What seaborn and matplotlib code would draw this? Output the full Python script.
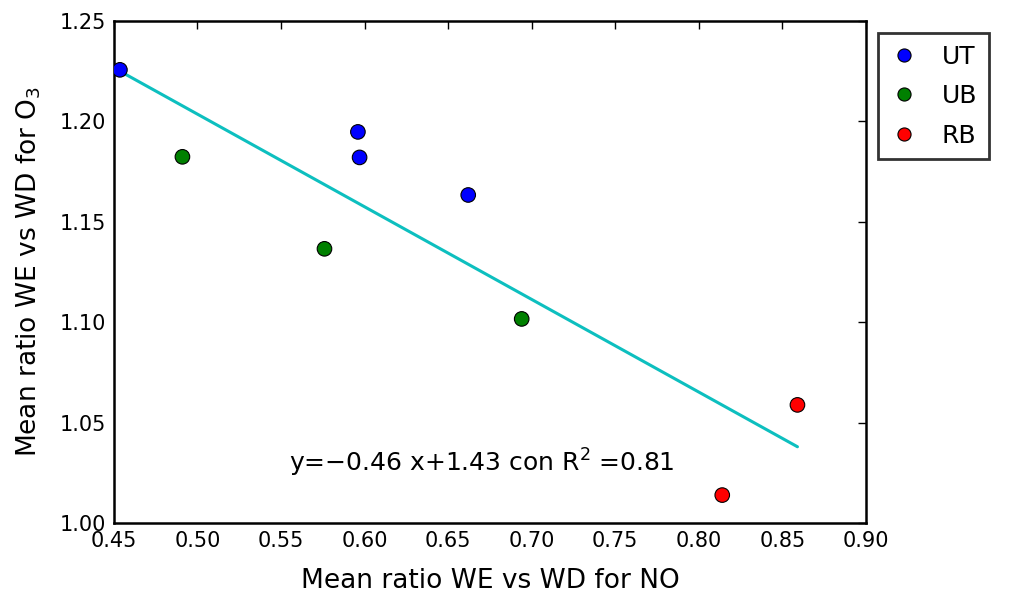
import numpy as np
import pandas as pd
import matplotlib
matplotlib.use("Agg")
import matplotlib.pyplot as plt
import seaborn as sns

# Data
groups = ["UT", "UT", "UT", "UT", "UB", "UB", "UB", "RB", "RB"]
x_no = [0.4536, 0.596, 0.597, 0.662, 0.491, 0.576, 0.694, 0.814, 0.859]
y_o3 = [1.2256, 1.1947, 1.182, 1.1633, 1.1823, 1.1365, 1.1016, 1.0139, 1.0588]
categories = ["UT", "UB", "RB"]
colors = ["#0000ff", "#008000", "#ff0000"]
fit_slope = -0.46
fit_intercept = 1.43
r2 = 0.81
x_ticks = [0.45, 0.50, 0.55, 0.60, 0.65, 0.70, 0.75, 0.80, 0.85, 0.90]
y_ticks = [1.00, 1.05, 1.10, 1.15, 1.20, 1.25]

df = pd.DataFrame({"x": x_no, "y": y_o3, "group": groups})

sns.set_style("white")
plt.rcParams["font.family"] = ["DejaVu Sans"]
plt.rcParams["text.color"] = "black"
plt.rcParams["axes.labelcolor"] = "black"

fig = plt.figure(figsize=(10.17, 5.95), dpi=100)
ax = fig.add_axes([0.112, 0.121, 0.7395, 0.844])

# regression line fitted from data
coef = np.polyfit(x_no, y_o3, 1)
xl = np.array([min(x_no), max(x_no)])
ax.plot(xl, np.polyval(coef, xl), color=(0.05, 0.75, 0.75), lw=2.2, zorder=1)

sns.scatterplot(data=df, x="x", y="y", hue="group", hue_order=categories,
                palette=colors, s=110, edgecolor="black", linewidth=0.8,
                ax=ax, zorder=3)

ax.set_xlim(0.45, 0.90)
ax.set_ylim(1.00, 1.25)
ax.set_xticks(x_ticks)
ax.set_yticks(y_ticks)
ax.set_xticklabels([f"{v:.2f}" for v in x_ticks])
ax.set_yticklabels([f"{v:.2f}" for v in y_ticks])
ax.tick_params(direction="in", length=6, width=1, top=True, right=True,
               labelsize=15, colors="black", pad=6)
for sp in ax.spines.values():
    sp.set_color("black")
    sp.set_linewidth(1.8)

ax.set_xlabel("Mean ratio WE vs WD for NO", fontsize=19, labelpad=12)
ax.set_ylabel("Mean ratio WE vs WD for O$_3$", fontsize=19, labelpad=12)

ax.text(0.555, 1.030, f"y=$-${abs(fit_slope):.2f} x+{fit_intercept:.2f} con R$^2$ =0.81",
        fontsize=18, va="center", ha="left")

handles, labels = ax.get_legend_handles_labels()
leg = ax.legend(handles, labels, loc="upper left", bbox_to_anchor=(1.016, 0.975),
                fontsize=18, frameon=True, fancybox=False, borderpad=0.45,
                handlelength=1.2, handletextpad=0.9, labelspacing=0.62,
                borderaxespad=0, markerscale=0.9)
leg.get_frame().set_edgecolor("black")
leg.get_frame().set_linewidth(2)

fig.savefig("out.png", dpi=100)
